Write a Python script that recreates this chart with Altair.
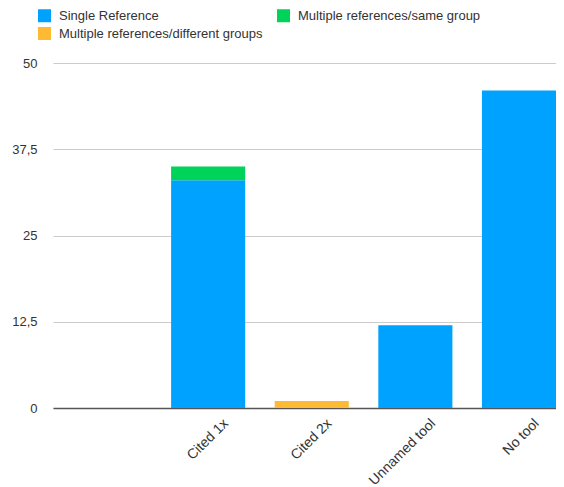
import altair as alt
import pandas as pd

categories = [" ", "Cited 1x", "Cited 2x", "Unnamed tool", "No tool"]
series = ["Single Reference", "Multiple references/different groups", "Multiple references/same group"]
single_ref = [0, 33, 0, 12, 46]
diff_groups = [0, 0, 1, 0, 0]
same_group = [0, 2, 0, 0, 0]
colors = ["#00A2FF", "#FEBA33", "#00D35A"]

rows = []
for i, c in enumerate(categories):
    for s, vals, o in zip(series, [single_ref, diff_groups, same_group], [0, 2, 1]):
        rows.append({"category": c, "series": s, "value": vals[i], "order": o})
df = pd.DataFrame(rows)

chart = alt.Chart(df).mark_bar().encode(
    x=alt.X("category:N", sort=categories, title=None,
            scale=alt.Scale(domain=categories, paddingInner=0.285, paddingOuter=0.07, align=1),
            axis=alt.Axis(labelAngle=-45, labelOffset=13, ticks=False, domainColor="#555555",
                          domainWidth=1.5, labelFontSize=14, labelColor="#333333", labelPadding=8,
                          labelFont="Liberation Sans")),
    y=alt.Y("value:Q", stack="zero", title=None,
            scale=alt.Scale(domain=[0, 50], nice=False),
            axis=alt.Axis(values=[0, 12.5, 25, 37.5, 50], domain=False, ticks=False,
                          labelPadding=16, gridColor="#CCCCCC", labelFontSize=13,
                          labelColor="#333333", labelFont="Liberation Sans",
                          labelExpr="replace(toString(datum.value), '.', ',')")),
    color=alt.Color("series:N", scale=alt.Scale(domain=series, range=colors),
                    legend=alt.Legend(title=None, orient="none", legendX=-15, legendY=-54,
                                      columns=2, symbolType="square", symbolSize=169,
                                      symbolStrokeWidth=0, labelFontSize=13, labelColor="#333333",
                                      labelFont="Liberation Sans", columnPadding=14,
                                      rowPadding=4, labelOffset=8, labelLimit=0)),
    order=alt.Order("order:Q"),
).properties(width=503, height=345, padding={"left": 3, "top": 1, "right": 0, "bottom": 0}
).configure_view(stroke=None)

chart.save("out.html", embed_options={"renderer": "svg", "actions": False})
